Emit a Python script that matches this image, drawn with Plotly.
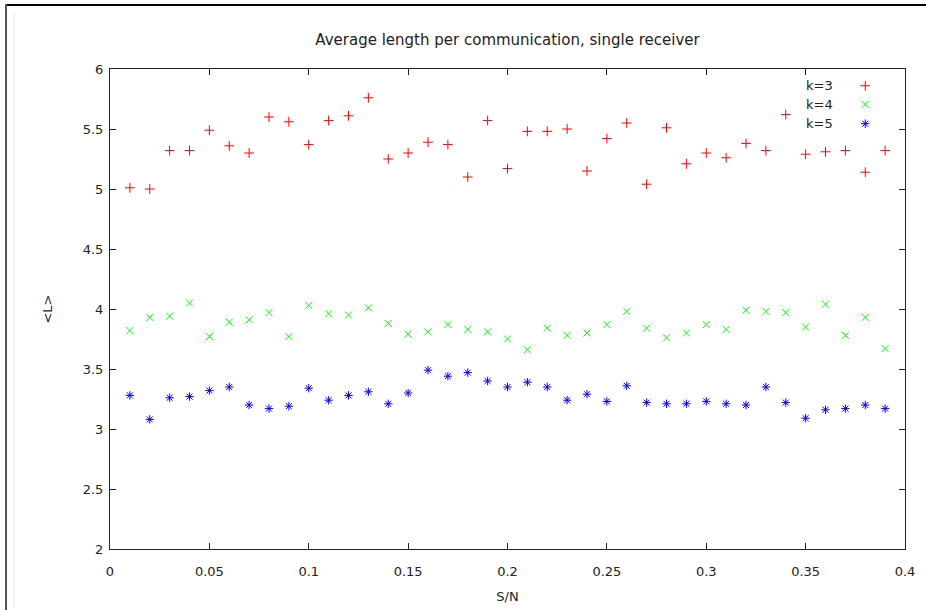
import plotly.graph_objects as go

sn = [round(0.01 * i, 2) for i in range(1, 40)]

k3 = [5.01, 5.00, 5.32, 5.32, 5.49, 5.36, 5.30, 5.60, 5.56, 5.37,
      5.57, 5.61, 5.76, 5.25, 5.30, 5.39, 5.37, 5.10, 5.57, 5.17,
      5.48, 5.48, 5.50, 5.15, 5.42, 5.55, 5.04, 5.51, 5.21, 5.30,
      5.26, 5.38, 5.32, 5.62, 5.29, 5.31, 5.32, 5.14, 5.32]

k4 = [3.82, 3.93, 3.94, 4.05, 3.77, 3.89, 3.91, 3.97, 3.77, 4.03,
      3.96, 3.95, 4.01, 3.88, 3.79, 3.81, 3.87, 3.83, 3.81, 3.75,
      3.66, 3.84, 3.78, 3.80, 3.87, 3.98, 3.84, 3.76, 3.80, 3.87,
      3.83, 3.99, 3.98, 3.97, 3.85, 4.04, 3.78, 3.93, 3.67]

k5 = [3.28, 3.08, 3.26, 3.27, 3.32, 3.35, 3.20, 3.17, 3.19, 3.34,
      3.24, 3.28, 3.31, 3.21, 3.30, 3.49, 3.44, 3.47, 3.40, 3.35,
      3.39, 3.35, 3.24, 3.29, 3.23, 3.36, 3.22, 3.21, 3.21, 3.23,
      3.21, 3.20, 3.35, 3.22, 3.09, 3.16, 3.17, 3.20, 3.17]

series_names = ["k=3", "k=4", "k=5"]
series_colors = ["#ff0000", "#00ff00", "#0000ff"]
series_symbols = ["cross-thin-open", "x-thin-open", "asterisk-open"]
series_data = [k3, k4, k5]

x_ticks = [0, 0.05, 0.1, 0.15, 0.2, 0.25, 0.3, 0.35, 0.4]
x_tick_text = ["0", "0.05", "0.1", "0.15", "0.2", "0.25", "0.3", "0.35", "0.4"]
y_ticks = [2, 2.5, 3, 3.5, 4, 4.5, 5, 5.5, 6]
y_tick_text = ["2", "2.5", "3", "3.5", "4", "4.5", "5", "5.5", "6"]

FONT = "DejaVu Sans"
TXT = "#222222"
fig = go.Figure()

for name, color, sym, vals in zip(series_names, series_colors, series_symbols, series_data):
    fig.add_trace(go.Scatter(
        x=sn, y=vals, mode="markers", name=name, showlegend=False,
        marker=dict(symbol=sym, size=7, color=color,
                    line=dict(color=color, width=1)),
    ))

# legend keys on an overlay axis (0..1 of plot area)
leg_y = [0.965, 0.926, 0.886]
for name, color, sym, ly in zip(series_names, series_colors, series_symbols, leg_y):
    fig.add_trace(go.Scatter(
        x=[0.95], y=[ly], mode="markers", showlegend=False,
        xaxis="x2", yaxis="y2", hoverinfo="skip",
        marker=dict(symbol=sym, size=7, color=color,
                    line=dict(color=color, width=1)),
    ))
    fig.add_annotation(x=0.912, y=ly, xref="paper", yref="paper",
                       text=name, showarrow=False,
                       xanchor="right", yanchor="middle",
                       font=dict(family=FONT, size=13, color=TXT))

fig.update_layout(
    width=926, height=613, autosize=False,
    margin=dict(l=110, r=21, t=69, b=64),
    paper_bgcolor="white", plot_bgcolor="white",
    font=dict(family=FONT, size=13, color=TXT),
    title=dict(text="Average length per communication, single receiver",
               x=0.5, xref="paper", xanchor="center",
               y=1 - 40 / 613, yanchor="middle",
               font=dict(family=FONT, size=15, color=TXT)),
    xaxis=dict(range=[0, 0.4], tickvals=x_ticks, ticktext=x_tick_text,
               automargin=False,
               ticks="inside", ticklen=6, tickcolor=TXT,
               ticklabelstandoff=10,
               showgrid=False, zeroline=False, showline=True, mirror="ticks",
               linecolor=TXT, linewidth=1,
               title=dict(text="S/N", standoff=14,
                          font=dict(family=FONT, size=13))),
    yaxis=dict(range=[2, 6], tickvals=y_ticks, ticktext=y_tick_text,
               automargin=False,
               ticks="inside", ticklen=6, tickcolor=TXT,
               ticklabelstandoff=3,
               showgrid=False, zeroline=False, showline=True, mirror="ticks",
               linecolor=TXT, linewidth=1,
               title=dict(text="&lt;L&gt;", standoff=27,
                          font=dict(family=FONT, size=13))),
    xaxis2=dict(range=[0, 1], overlaying="x", visible=False, fixedrange=True),
    yaxis2=dict(range=[0, 1], overlaying="y", visible=False, fixedrange=True),
)

# faint inner edge of the original screenshot frame
def px(x):
    return (x - 110) / 795

def py(y):
    return (549 - y) / 480

fig.add_shape(type="line", xref="paper", yref="paper",
              x0=px(14), x1=px(14), y0=py(13), y1=py(608),
              line=dict(color="#ebebeb", width=1))

frame_js = (
    "document.body.style.margin='0';"
    "var t=document.createElement('div');"
    "t.style.cssText='position:fixed;left:5px;top:4px;width:921px;height:2px;background:#000;z-index:10;pointer-events:none';"
    "document.body.appendChild(t);"
    "var l=document.createElement('div');"
    "l.style.cssText='position:fixed;left:5px;top:4px;width:2px;height:606px;background:#555;z-index:10;pointer-events:none';"
    "document.body.appendChild(l);"
)

fig.write_html("out.html",
               config={"displayModeBar": False, "responsive": False},
               post_script=frame_js)
